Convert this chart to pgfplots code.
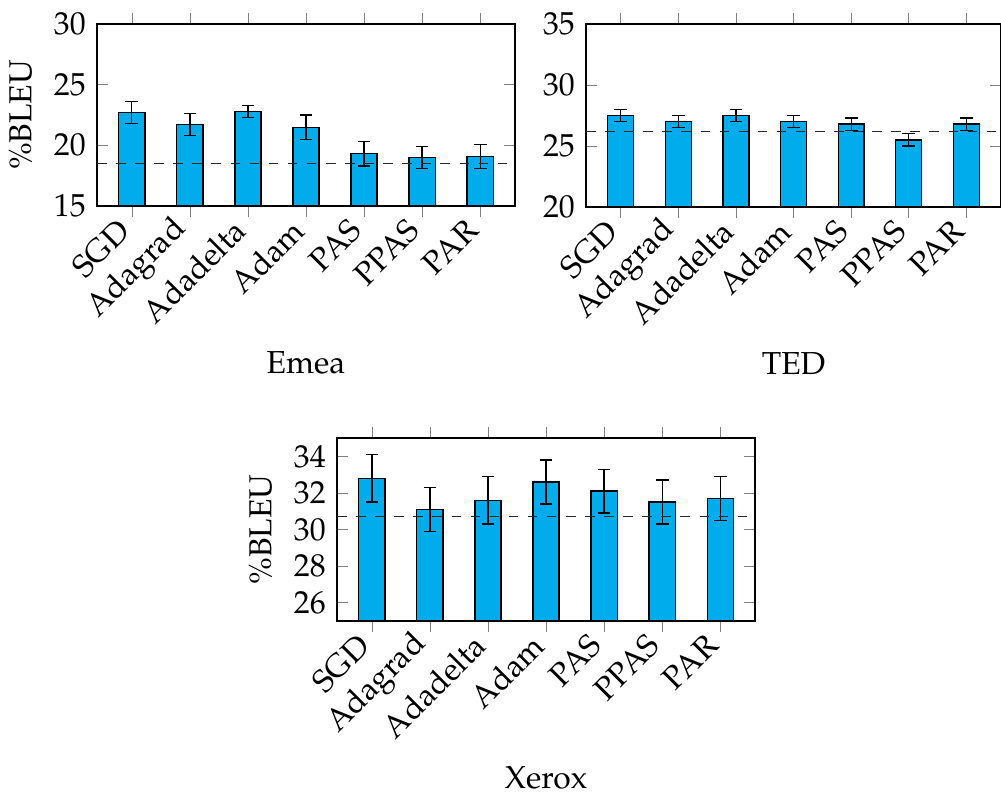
\documentclass[border=0pt]{standalone}
\usepackage[T1]{fontenc}
\usepackage{mathpazo}
\usepackage{pgfplots}
\pgfplotsset{compat=1.18}
\definecolor{barblue}{RGB}{0,172,236}
\pgfplotsset{
  myaxis/.style={
    scale only axis,
    anchor=south west,
    xmin=-0.6, xmax=6.6,
    xtick={0,...,6},
    xticklabels={SGD,Adagrad,Adadelta,Adam,PAS,PPAS,PAR},
    xticklabel style={rotate=45, anchor=east},
    xtick align=outside,
    major tick length=3.5pt,
    xlabel style={at={(axis description cs:0.5,0)}, anchor=base, yshift=-52.8pt},
  },
  mybar/.style={ybar, bar width=0.45, fill=barblue, draw=black,
    error bars/.cd, y dir=both, y explicit},
  myline/.style={sharp plot, dashed, black!85, forget plot},
}
\begin{document}
\begin{tikzpicture}
\useasboundingbox (0,0) rectangle (314.8pt,-249.4pt);
% Emea
\begin{axis}[myaxis, at={(30.51pt,-64.79pt)}, width=131.46pt, height=57.24pt,
  ymin=15, ymax=30, ytick={15,20,25,30}, ylabel={\%BLEU}, xlabel={Emea}]
\addplot[mybar] coordinates {(0,22.7) +- (0,0.9) (1,21.7) +- (0,0.9) (2,22.8) +- (0,0.5) (3,21.5) +- (0,1.0) (4,19.3) +- (0,1.0) (5,19.0) +- (0,0.9) (6,19.1) +- (0,1.0)};
\addplot[myline] coordinates {(-0.6,18.5) (6.6,18.5)};
\end{axis}
% TED
\begin{axis}[myaxis, at={(184.30pt,-65.10pt)}, width=130.5pt, height=57.55pt,
  ymin=20, ymax=35, ytick={20,25,30,35}, xlabel={TED}]
\addplot[mybar] coordinates {(0,27.5) +- (0,0.5) (1,27.0) +- (0,0.5) (2,27.5) +- (0,0.5) (3,27.0) +- (0,0.5) (4,26.8) +- (0,0.5) (5,25.5) +- (0,0.5) (6,26.8) +- (0,0.5)};
\addplot[myline] coordinates {(-0.6,26.2) (6.6,26.2)};
\end{axis}
% Xerox
\begin{axis}[myaxis, at={(105.99pt,-195.30pt)}, width=131.46pt, height=57.55pt,
  ymin=25, ymax=35, ytick={26,28,30,32,34}, ylabel={\%BLEU}, xlabel={Xerox}]
\addplot[mybar] coordinates {(0,32.8) +- (0,1.3) (1,31.1) +- (0,1.2) (2,31.6) +- (0,1.3) (3,32.6) +- (0,1.2) (4,32.1) +- (0,1.2) (5,31.5) +- (0,1.2) (6,31.7) +- (0,1.2)};
\addplot[myline] coordinates {(-0.6,30.7) (6.6,30.7)};
\end{axis}
\end{tikzpicture}
\end{document}
